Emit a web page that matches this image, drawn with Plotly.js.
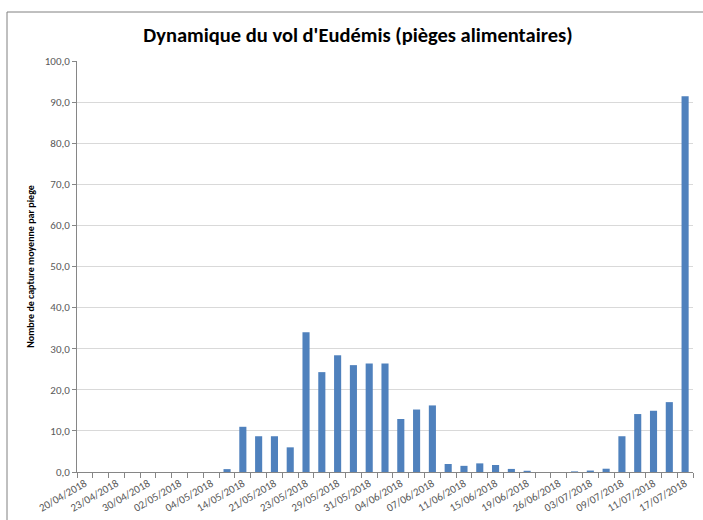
<!DOCTYPE html>
<html>
<head>
<meta charset="utf-8">
<script src="https://cdn.plot.ly/plotly-3.0.1.min.js"></script>
<style>
html,body{margin:0;padding:0;background:#fff;}
#chart{width:703px;height:520px;}
</style>
</head>
<body>
<div id="chart"></div>
<script>
// Tick labels shown on the axis (every second sampling date)
const tickLabels = ["20/04/2018","23/04/2018","30/04/2018","02/05/2018","04/05/2018",
  "14/05/2018","21/05/2018","23/05/2018","29/05/2018","31/05/2018",
  "04/06/2018","07/06/2018","11/06/2018","15/06/2018","19/06/2018",
  "26/06/2018","03/07/2018","09/07/2018","11/07/2018","17/07/2018"];
// Sampling index (39 readings)
const sampleIndex = Array.from({length:39},(_,i)=>i);
// Mean captures per trap
const captures = [0,0,0,0,0,0,0,0,0,0.7,
  11.0,8.7,8.7,6.0,34.0,24.3,28.4,26.0,26.4,26.4,
  12.9,15.2,16.2,1.95,1.5,2.1,1.7,0.75,0.3,0,
  0,0.15,0.35,0.8,8.7,14.1,14.9,17.0,91.4];
const tickPositions = tickLabels.map((_,i)=>i*2);

const FONT = "Carlito, Lato, 'Open Sans', sans-serif";
const L=77, R=10, T=61, B=48, W=703, H=520;
const pw=W-L-R, ph=H-T-B;
const px=(x)=>(x-L)/pw, py=(y)=>(H-B-y)/ph;

const trace = {
  type:'bar', x:sampleIndex, y:captures,
  marker:{color:'#4f81bd', line:{width:0}},
  hoverinfo:'y'
};

const layout = {
  width:W, height:H,
  margin:{l:L,r:R,t:T,b:B},
  paper_bgcolor:'#fff', plot_bgcolor:'#fff',
  separators:',.',
  bargap:0.55,
  showlegend:false,
  font:{family:FONT, color:'#595959', size:11},
  title:{text:"Dynamique du vol d'Eudémis (pièges alimentaires)",
    font:{family:FONT, size:20.5, color:'#000', weight:'bold'},
    x:(358)/W, xanchor:'center', y:1-35/H, yanchor:'middle'},
  xaxis:{
    range:[-0.5,38.5], tickmode:'array', tickvals:tickPositions, ticktext:tickLabels,
    tickangle:-30, ticks:'', showgrid:false, zeroline:false,
    showline:true, linecolor:'#868686', linewidth:1,
    tickfont:{family:FONT, size:11, color:'#595959'},
    minor:{tick0:-0.5, dtick:1, ticks:'outside', ticklen:5, tickcolor:'#868686', showgrid:false},
    fixedrange:true
  },
  yaxis:{
    range:[0,100], dtick:10, tickformat:'.1f',
    showgrid:true, gridcolor:'#d9d9d9', gridwidth:1, zeroline:false,
    showline:true, linecolor:'#868686', linewidth:1,
    ticks:'outside', ticklen:4, tickcolor:'#868686',
    tickfont:{family:FONT, size:11, color:'#595959'},
    title:{text:'Nombre de capture moyenne par piege', standoff:8,
      font:{family:FONT, size:10, color:'#000', weight:'bold'}},
    fixedrange:true
  },
  shapes:[
    {type:'path', xref:'paper', yref:'paper',
     path:`M ${px(7)} ${py(H+5)} L ${px(7)} ${py(12)} L ${px(W+5)} ${py(12)}`,
     line:{color:'#808080', width:1}}
  ]
};

Plotly.newPlot('chart',[trace],layout,{staticPlot:true});
</script>
</body>
</html>
